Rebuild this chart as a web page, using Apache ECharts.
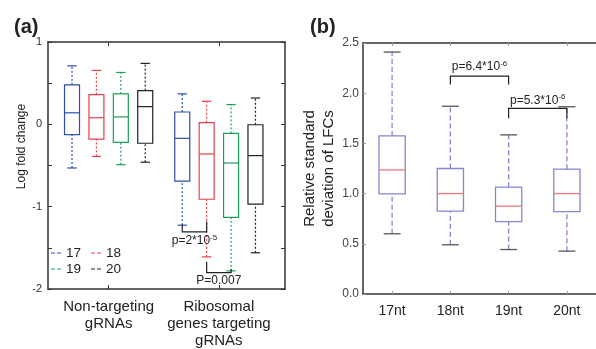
<!DOCTYPE html>
<html>
<head>
<meta charset="utf-8">
<script src="https://cdn.jsdelivr.net/npm/echarts@6/dist/echarts.min.js"></script>
<style>
  html, body { margin: 0; padding: 0; background: #fff; }
  #chart { width: 596px; height: 349px; }
</style>
</head>
<body>
<div id="chart"></div>
<script>
// panel (a): log fold change, box stats are [min, Q1, median, Q3, max] per group
const groupNames = ['Non-targeting\ngRNAs', 'Ribosomal\ngenes targeting\ngRNAs'];
const lengths = ['17', '18', '19', '20'];
const lfc17 = [[-0.53, -0.125, 0.14, 0.48, 0.71], [-1.225, -0.69, -0.17, 0.15, 0.37]];
const lfc18 = [[-0.39, -0.18, 0.08, 0.36, 0.655], [-1.61, -0.91, -0.36, 0.02, 0.28]];
const lfc19 = [[-0.49, -0.22, 0.09, 0.37, 0.63], [-1.78, -1.13, -0.47, -0.11, 0.24]];
const lfc20 = [[-0.46, -0.23, 0.215, 0.41, 0.74], [-1.56, -0.97, -0.38, -0.005, 0.32]];
const yTicksA = [-2, -1, 0, 1];

// significance brackets in (a), both on the ribosomal group
const pairsA = [[0, 1], [1, 2]];
const pTextA = ['p=2*10{s|-5}', 'P=0.007'];
const lineYA = [-1.305, -1.80];
const endsA = [[-1.22, -1.18], [-1.67, -1.76]];
const labelYA = [-1.41, -1.90];

// panel (b): relative SD of LFCs
const ntLabels = ['17nt', '18nt', '19nt', '20nt'];
const rsd = [
    [0.60, 0.997, 1.236, 1.574, 2.41],
    [0.49, 0.825, 1.0, 1.25, 1.87],
    [0.443, 0.72, 0.875, 1.064, 1.585],
    [0.427, 0.82, 1.0, 1.243, 1.865]
];
const pairsB = [[1, 2], [2, 3]];
const pTextB = ['p=6.4*10{s|-6}', 'p=5.3*10{s|-6}'];
const lineYB = [2.17, 1.849];
const endsB = [[2.087, 2.087], [1.75, 1.75]];
const labelYB = [2.26, 1.93];

const colorsA = ['#2f4fa6', '#e8404c', '#1f9d5c', '#222222'];
const slot = 0.2214; // spacing between boxes inside a group (x units)
const xPos = (g, i) => (g + 1) + (i - 1.5) * slot;

const boxRenderer = (o) => (params, api) => {
    const x = api.value(0);
    const v = [1, 2, 3, 4, 5].map(i => api.value(i));
    const p = v.map(val => api.coord([x, val]));
    const cx = p[0][0];
    const hw = api.size([o.boxWidth, 0])[0] / 2;
    const cw = api.size([o.capWidth, 0])[0] / 2;
    const solid = { stroke: o.box, lineWidth: o.lw, fill: null };
    const dash = { stroke: o.whisker, lineWidth: o.lw, lineDash: o.dash, fill: null };
    const cap = { stroke: o.cap, lineWidth: o.lw, fill: null };
    return {
        type: 'group',
        children: [
            { type: 'line', shape: { x1: cx, y1: p[3][1], x2: cx, y2: p[4][1] }, style: dash },
            { type: 'line', shape: { x1: cx, y1: p[0][1], x2: cx, y2: p[1][1] }, style: dash },
            { type: 'line', shape: { x1: cx - cw, y1: p[4][1], x2: cx + cw, y2: p[4][1] }, style: cap },
            { type: 'line', shape: { x1: cx - cw, y1: p[0][1], x2: cx + cw, y2: p[0][1] }, style: cap },
            { type: 'rect', shape: { x: cx - hw, y: p[3][1], width: hw * 2, height: p[1][1] - p[3][1] }, style: solid },
            { type: 'line', shape: { x1: cx - hw, y1: p[2][1], x2: cx + hw, y2: p[2][1] }, style: { stroke: o.median, lineWidth: o.lw } }
        ]
    };
};

const bracketRenderer = (texts) => (params, api) => {
    const a = api.coord([api.value(0), api.value(3)]);
    const b = api.coord([api.value(0), api.value(2)]);
    const c = api.coord([api.value(1), api.value(2)]);
    const d = api.coord([api.value(1), api.value(4)]);
    const t = api.coord([(api.value(0) + api.value(1)) / 2, api.value(5)]);
    return {
        type: 'group',
        children: [
            { type: 'polyline', shape: { points: [a, b, c, d] }, style: { stroke: '#222', lineWidth: 1.2, fill: null } },
            {
                type: 'text', x: t[0], y: t[1],
                style: {
                    text: texts[params.dataIndex], align: 'center', verticalAlign: 'middle',
                    fontSize: 12, lineHeight: 14, fill: '#222', fontFamily: 'Liberation Sans, Arial, sans-serif',
                    rich: { s: { fontSize: 8, lineHeight: 14, verticalAlign: 'top', fill: '#222' } }
                }
            }
        ]
    };
};

const lfcSets = [lfc17, lfc18, lfc19, lfc20];
const seriesA = lengths.map((name, i) => ({
    type: 'custom', name, xAxisIndex: 0, yAxisIndex: 0,
    itemStyle: { color: colorsA[i] },
    encode: { x: 0, y: [1, 2, 3, 4, 5] },
    renderItem: boxRenderer({ boxWidth: 0.136, capWidth: 0.085, lw: 1.2, box: colorsA[i], median: colorsA[i], whisker: colorsA[i], cap: colorsA[i], dash: [2, 2] }),
    data: lfcSets[i].map((s, g) => [xPos(g, i)].concat(s))
}));

const bracketsA = pairsA.map((pr, k) => [xPos(1, pr[0]), xPos(1, pr[1]), lineYA[k], endsA[k][0], endsA[k][1], labelYA[k]]);
const bracketsB = pairsB.map((pr, k) => [pr[0], pr[1], lineYB[k], endsB[k][0], endsB[k][1], labelYB[k]]);

const font = 'Liberation Sans, Arial, sans-serif';
const lineDark = { onZero: false, lineStyle: { color: '#333', width: 1.5 } };

const option = {
    animation: false,
    textStyle: { fontFamily: font },
    title: [
        { text: '(a)', left: 9, top: 12, textStyle: { fontSize: 20, fontWeight: 'bold', color: '#222', fontFamily: font } },
        { text: '(b)', left: 305, top: 12, textStyle: { fontSize: 20, fontWeight: 'bold', color: '#222', fontFamily: font } }
    ],
    legend: [
        { data: ['17', '18'], left: 46, top: 241, orient: 'horizontal', selectedMode: false, itemWidth: 10, itemHeight: 2, itemGap: 10,
          icon: 'path://M0,0h4v1h-4z M6,0h4v1h-4z', textStyle: { fontSize: 13.5, color: '#222' } },
        { data: ['19', '20'], left: 46, top: 257, orient: 'horizontal', selectedMode: false, itemWidth: 10, itemHeight: 2, itemGap: 10,
          icon: 'path://M0,0h4v1h-4z M6,0h4v1h-4z', textStyle: { fontSize: 13.5, color: '#222' } }
    ],
    grid: [
        { left: 48, top: 42, width: 237, height: 250 },
        { left: 363, top: 43, width: 236, height: 251 }
    ],
    xAxis: [
        { gridIndex: 0, type: 'value', min: 0.45, max: 2.6, position: 'bottom', splitLine: { show: false },
          axisLine: lineDark,
          axisTick: { customValues: [1, 2], inside: true, length: 4, lineStyle: { color: '#333' } },
          axisLabel: { customValues: [1, 2], formatter: v => groupNames[Math.round(v) - 1], fontSize: 15, lineHeight: 17, color: '#222', margin: 9 } },
        { gridIndex: 0, type: 'value', min: 0.45, max: 2.6, position: 'top', splitLine: { show: false },
          axisLine: lineDark,
          axisTick: { customValues: [1, 2], inside: true, length: 4, lineStyle: { color: '#333' } },
          axisLabel: { show: false } },
        { gridIndex: 1, type: 'value', min: -0.5, max: 3.5, position: 'bottom', splitLine: { show: false },
          axisLine: lineDark,
          axisTick: { customValues: [0, 1, 2, 3], inside: true, length: 3, lineStyle: { color: '#999' } },
          axisLabel: { customValues: [0, 1, 2, 3], formatter: v => ntLabels[Math.round(v)], fontSize: 14, color: '#222', margin: 10 } },
        { gridIndex: 1, type: 'value', min: -0.5, max: 3.5, position: 'top', splitLine: { show: false },
          axisLine: lineDark,
          axisTick: { customValues: [0, 1, 2, 3], inside: true, length: 3, lineStyle: { color: '#999' } },
          axisLabel: { show: false } }
    ],
    yAxis: [
        { gridIndex: 0, type: 'value', min: -2, max: 1, interval: 0.5, position: 'left', splitLine: { show: false },
          axisLine: lineDark,
          axisTick: { inside: true, length: 4, lineStyle: { color: '#333' } },
          axisLabel: { customValues: yTicksA, fontSize: 11, color: '#333', margin: 6 },
          name: 'Log fold change', nameLocation: 'middle', nameRotate: 90, nameGap: 20,
          nameTextStyle: { fontSize: 12, color: '#222', padding: [0, 0, 0, 38] } },
        { gridIndex: 0, type: 'value', min: -2, max: 1, interval: 0.5, position: 'right', splitLine: { show: false },
          axisLine: lineDark,
          axisTick: { inside: true, length: 4, lineStyle: { color: '#333' } },
          axisLabel: { show: false } },
        { gridIndex: 1, type: 'value', min: 0, max: 2.5, interval: 0.5, position: 'left', splitLine: { show: false },
          axisLine: lineDark,
          axisTick: { inside: true, length: 3, lineStyle: { color: '#999' } },
          axisLabel: { formatter: v => v.toFixed(1), fontSize: 12, color: '#444', margin: 4 },
          name: 'Relative standard\ndeviation of LFCs', nameLocation: 'middle', nameRotate: 90, nameGap: 22,
          nameTextStyle: { fontSize: 15, lineHeight: 19, color: '#222' } }
    ],
    series: seriesA.concat([
        { type: 'custom', name: 'bracketsA', xAxisIndex: 0, yAxisIndex: 0,
          encode: { x: [0, 1], y: [2, 3, 4, 5] },
          renderItem: bracketRenderer(pTextA), data: bracketsA },
        { type: 'custom', name: 'rsd', xAxisIndex: 2, yAxisIndex: 2,
          encode: { x: 0, y: [1, 2, 3, 4, 5] },
          renderItem: boxRenderer({ boxWidth: 0.45, capWidth: 0.29, lw: 1.3, box: '#8585d6', median: '#f07a7a', whisker: '#8585d6', cap: '#555', dash: [5, 3] }),
          data: rsd.map((s, i) => [i].concat(s)) },
        { type: 'custom', name: 'bracketsB', xAxisIndex: 2, yAxisIndex: 2,
          encode: { x: [0, 1], y: [2, 3, 4, 5] },
          renderItem: bracketRenderer(pTextB), data: bracketsB }
    ])
};

const chart = echarts.init(document.getElementById('chart'));
chart.setOption(option);
</script>
</body>
</html>
